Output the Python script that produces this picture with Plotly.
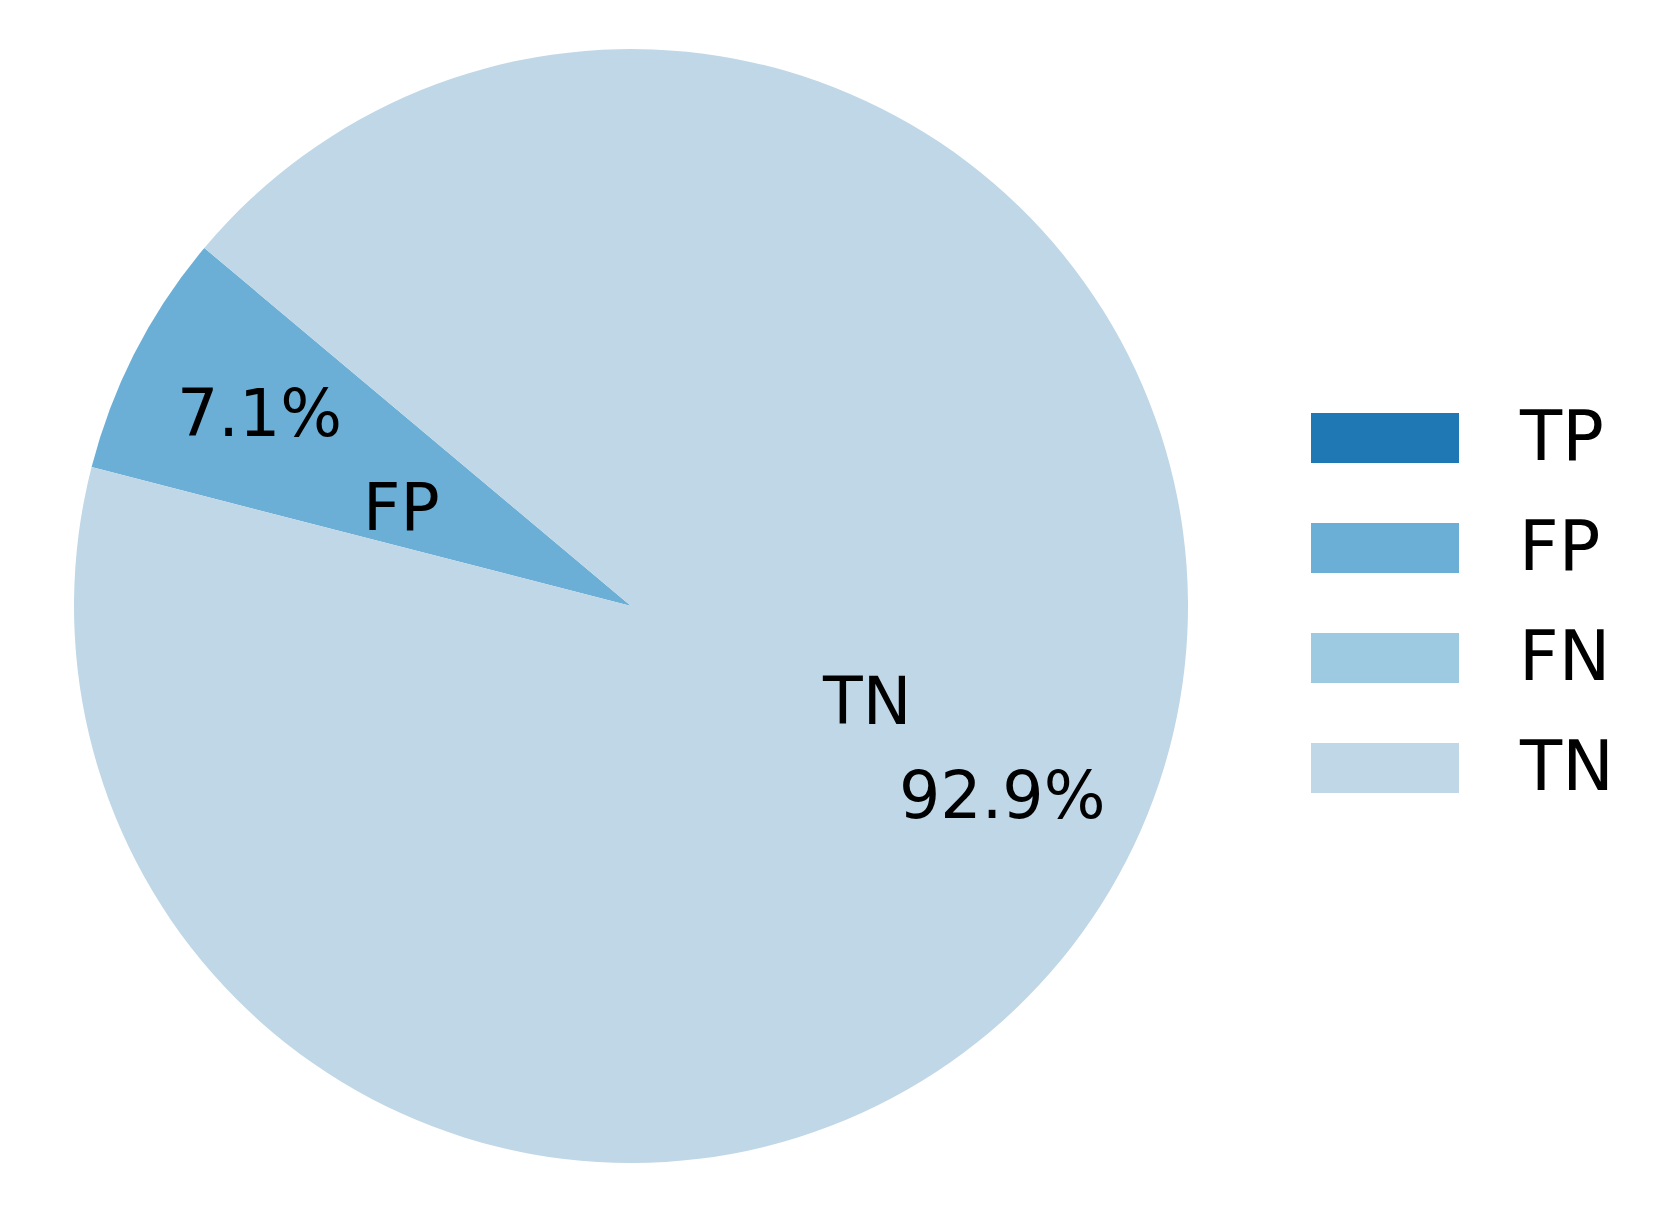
import math
import plotly.graph_objects as go

labels = ["TP", "FP", "FN", "TN"]
values = [0, 7.1, 0, 92.9]
colors = ["#1f77b4", "#6baed6", "#9ecae1", "#bfd7e6"]

W, H = 1662, 1216
OFF = 8  # page body margin in the rendered html
cx, cy, R = 631, 606, 557   # target screen pixels
start_angle = 140  # degrees, counterclockwise from +x
label_dist = 0.381
pct_dist = 0.75
FONT = "DejaVu Sans"
PIE_FS = 65
LEG_FS = 69


def px(sx):
    return (sx - OFF) / W


def py(sy):
    return 1 - (sy - OFF) / H


fig = go.Figure()
fig.add_trace(go.Pie(
    labels=labels, values=values, sort=False,
    direction="counterclockwise", rotation=90 - start_angle,
    marker=dict(colors=colors, line=dict(width=0)),
    textinfo="none", hoverinfo="label+percent", showlegend=False,
    domain=dict(x=[px(cx - R), px(cx + R)], y=[py(cy + R), py(cy - R)]),
))

annotations = []
total = sum(values)
ang = start_angle
for lab, v in zip(labels, values):
    if v <= 0:
        continue
    span = 360 * v / total
    mid = math.radians(ang + span / 2)
    c, s = math.cos(mid), math.sin(mid)
    # category label: aligned away from center like matplotlib
    lx = cx + label_dist * R * c
    ly = cy - label_dist * R * s - 0.02 * PIE_FS
    annotations.append(dict(x=px(lx), y=py(ly), xref="paper", yref="paper",
                            text=lab, showarrow=False,
                            xanchor="left" if c > 0 else "right", yanchor="middle",
                            font=dict(family=FONT, size=PIE_FS, color="black")))
    tx = cx + pct_dist * R * c
    ty = cy - pct_dist * R * s - 0.02 * PIE_FS
    annotations.append(dict(x=px(tx), y=py(ty), xref="paper", yref="paper",
                            text=f"{100 * v / total:.1f}%", showarrow=False,
                            xanchor="center", yanchor="middle",
                            font=dict(family=FONT, size=PIE_FS, color="black")))
    ang += span

shapes = []
leg_x0, leg_x1 = 1311, 1459
leg_top, leg_h, leg_step = 413, 50, 110
for i, (lab, col) in enumerate(zip(labels, colors)):
    y0 = leg_top + i * leg_step
    shapes.append(dict(type="rect", xref="paper", yref="paper",
                       x0=px(leg_x0), x1=px(leg_x1), y0=py(y0), y1=py(y0 + leg_h),
                       fillcolor=col, line=dict(width=0)))
    annotations.append(dict(x=px(1517), y=py(y0 + leg_h / 2 - 2), xref="paper", yref="paper",
                            text=lab, showarrow=False, xanchor="left", yanchor="middle",
                            font=dict(family=FONT, size=LEG_FS, color="black")))

fig.update_layout(
    width=W, height=H, margin=dict(l=0, r=0, t=0, b=0),
    paper_bgcolor="white", plot_bgcolor="white",
    annotations=annotations, shapes=shapes,
)
fig.write_html("out.html")
